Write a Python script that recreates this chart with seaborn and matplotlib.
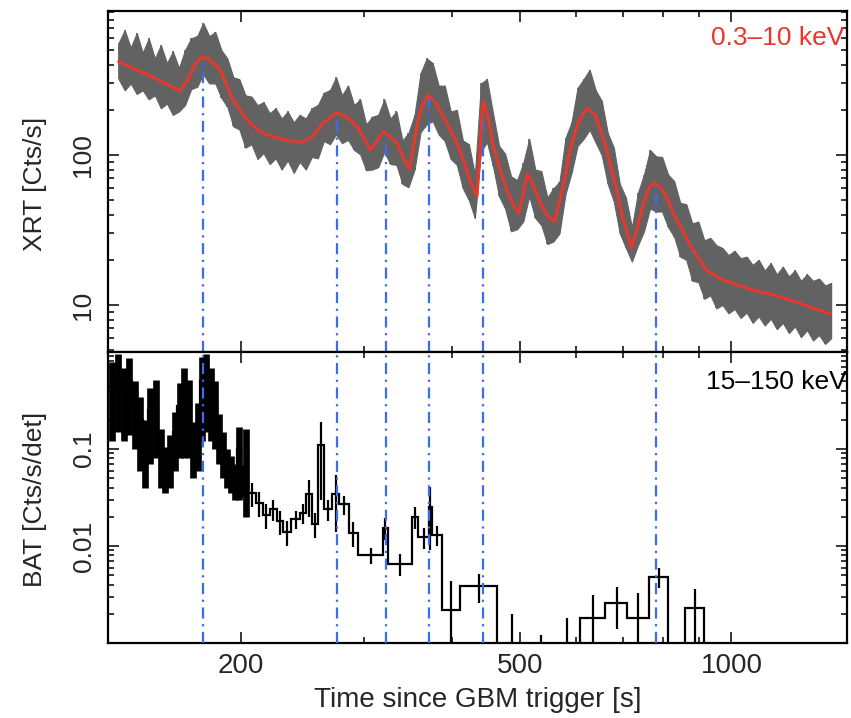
import matplotlib
matplotlib.use("Agg")
import matplotlib.pyplot as plt
import matplotlib.ticker as mticker
import seaborn as sns

# XRT 0.3-10 keV light curve: bin times and grey band edges (upper / lower)
xrt_t = [134.0, 136.7, 139.4, 142.2, 145.0, 147.9, 150.9, 153.9, 157.0, 160.1,
         163.3, 166.6, 170.0, 173.4, 176.8, 180.4, 184.0, 187.7, 191.4, 195.2,
         199.1, 203.1, 207.2, 211.3, 215.5, 219.9, 224.3, 228.7, 233.3, 238.0,
         242.7, 247.6, 252.5, 257.6, 262.7, 268.0, 273.4, 278.8, 284.4, 290.1,
         295.9, 301.8, 307.9, 314.0, 320.3, 326.7, 333.3, 339.9, 346.7, 353.7,
         360.7, 368.0, 375.3, 382.8, 390.5, 398.3, 406.3, 414.4, 422.7, 431.1,
         439.8, 448.5, 457.5, 466.7, 476.0, 485.5, 495.2, 505.1, 515.2, 525.5,
         536.1, 546.8, 557.7, 568.9, 580.3, 591.9, 603.7, 615.8, 628.1, 640.7,
         653.5, 666.6, 679.9, 693.5, 707.4, 721.5, 735.9, 750.7, 765.7, 781.0,
         796.6, 812.6, 828.8, 845.4, 862.3, 879.6, 897.2, 915.1, 933.4, 952.1,
         971.1, 990.5, 1010.4, 1030.6, 1051.2, 1072.2, 1093.6, 1115.5, 1137.8, 1160.6,
         1183.8, 1207.5, 1231.6, 1256.3, 1281.4, 1307.0, 1333.2, 1359.8, 1387.0]
xrt_hi = [560, 680, 520, 650, 480, 600, 440, 540, 410, 490,
          380, 500, 600, 620, 760, 620, 660, 500, 440, 330,
          320, 250, 245, 215, 225, 190, 205, 175, 195, 165,
          185, 175, 205, 215, 260, 270, 330, 250, 290, 215,
          235, 160, 180, 185, 235, 175, 195, 125, 140, 185,
          350, 440, 410, 290, 290, 195, 200, 125, 118, 74,
          300, 320, 190, 115, 102, 72, 68, 88, 128, 80,
          78, 52, 60, 66, 130, 165, 280, 320, 370, 270,
          230, 140, 112, 64, 52, 33, 56, 74, 108, 98,
          97, 74, 67, 48, 47, 35, 36, 27, 28, 25,
          24, 21.5, 23, 20.5, 21, 18.5, 20, 17, 19, 16,
          18, 15.5, 17, 14.5, 16, 14.5, 15, 13.5, 14]
xrt_lo = [320, 270, 300, 255, 270, 235, 250, 205, 220, 185,
          195, 215, 275, 285, 345, 300, 300, 240, 210, 155,
          148, 112, 118, 94, 103, 87, 95, 80, 92, 76,
          90, 80, 97, 95, 124, 118, 137, 120, 126, 108,
          101, 79, 80, 83, 105, 87, 86, 64, 61, 80,
          142, 160, 168, 137, 124, 94, 86, 60, 50, 38,
          105, 122, 84, 53, 44, 31, 32, 36, 53, 38,
          34, 25.5, 26.5, 30, 55, 76, 115, 128, 147, 121,
          100, 64, 49, 30, 24, 19.5, 25, 31, 44, 42,
          42, 33, 28.5, 21, 20, 14.5, 14.2, 11, 11.6, 9.5,
          10, 8.8, 9.4, 8.2, 8.9, 7.6, 8.4, 7.3, 8.1, 6.9,
          7.6, 6.5, 7.2, 6.1, 6.8, 5.8, 6.3, 5.5, 6]

# pulse model fit (red curve)
model_t = [134, 150, 164, 168, 172, 176, 180, 187, 195, 206,
           215, 223, 235, 243, 252, 262, 274, 283, 293, 300,
           306, 312, 319, 326, 334, 341, 348, 353, 357, 363,
           370, 380, 393, 405, 415, 425, 434, 438, 441, 443,
           450, 458, 468, 479, 490, 498, 505, 512, 520, 532,
           545, 560, 575, 589, 605, 622, 640, 660, 680, 700,
           721, 735, 750, 762, 775, 790, 810, 826, 850, 873,
           900, 922, 950, 973, 1020, 1073, 1147, 1250, 1382]
model_rate = [419, 330, 268, 316, 400, 450, 440, 368, 232, 163,
              140, 132, 124, 121, 130, 163, 191, 180, 155, 128,
              108, 122, 143, 133, 120, 95, 81, 120, 163, 215,
              251, 218, 163, 125, 93, 66, 53, 100, 180, 226,
              180, 114, 80, 58, 46, 41, 55, 75, 66, 50,
              40, 36, 60, 108, 165, 205, 185, 120, 70, 38,
              24, 33, 48, 60, 65, 62, 52, 41, 32, 25,
              20, 17, 15.6, 14.7, 13.6, 12.6, 11.7, 10.3, 8.7]

# pulse peak times (blue dash-dot lines) and model rate at each peak
peak_t = [177, 274, 322, 371, 443, 781]
peak_rate = [450, 191, 141, 251, 226, 65]

# BAT 15-150 keV binned light curve
bat_edges = [130, 132.5, 135, 137.5, 140, 142.5, 145, 147.5, 150, 152.5,
             155, 157.5, 160, 162.5, 165, 167.5, 170, 172.5, 175, 177.5,
             180, 182.5, 185, 187.5, 190, 192.5, 195, 197.5, 200, 202.5,
             205, 210, 215, 220, 225, 230, 236, 243, 248, 253,
             258, 263, 270, 276, 285, 294, 319, 324, 351, 358,
             371, 374, 387, 411, 464, 510, 560, 608, 661, 711,
             762, 813, 860, 914, 960]
bat_rate = [0.45, 0.55, 0.40, 0.50, 0.30, 0.20, 0.12, 0.25, 0.30, 0.10,
            0.07, 0.09, 0.15, 0.28, 0.38, 0.30, 0.12, 0.18, 0.50, 0.55,
            0.40, 0.30, 0.15, 0.10, 0.07, 0.06, 0.05, 0.10, 0.05, 0.09,
            0.035, 0.028, 0.021, 0.024, 0.018, 0.014, 0.019, 0.022, 0.034, 0.017,
            0.11, 0.024, 0.034, 0.027, 0.0137, 0.0081, 0.0154, 0.0066, 0.020, 0.0124,
            0.025, 0.013, 0.0022, 0.0039, -0.0005, -0.002, -0.0002, 0.0018, 0.0026, 0.0018,
            0.0048, -0.001, 0.0023, -0.002]
bat_err = [0.33, 0.40, 0.28, 0.36, 0.20, 0.14, 0.08, 0.18, 0.22, 0.06,
           0.035, 0.05, 0.09, 0.20, 0.30, 0.22, 0.07, 0.12, 0.38, 0.40,
           0.28, 0.20, 0.08, 0.05, 0.03, 0.025, 0.02, 0.07, 0.018, 0.07,
           0.010, 0.008, 0.006, 0.006, 0.005, 0.004, 0.004, 0.005, 0.014, 0.005,
           0.08, 0.006, 0.02, 0.006, 0.004, 0.0015, 0.004, 0.0017, 0.005, 0.003,
           0.016, 0.003, 0.0022, 0.0013, 0.0025, 0.0032, 0.002, 0.0013, 0.0012, 0.0015,
           0.0011, 0.0012, 0.0013, 0.001]
n_dense = 30  # the first 2.5 s bins overlap into a solid band

sns.set_style("ticks")
plt.rcParams['font.family'] = ['Liberation Sans', 'DejaVu Sans']
plt.rcParams['axes.linewidth'] = 1.6

xlim = (129.4, 1461)
xrt_ylim = (4.86, 912)
bat_ylim = (0.001, 1.0)
grey = '#626262'
red = '#e8372c'
blue = '#3a6cf4'
dashdot = (0, (5, 2.5, 1, 2.5))

fig = plt.figure(figsize=(8.51, 7.18), dpi=100)
ax1 = fig.add_axes([108 / 851, 1 - 352 / 718, 739 / 851, 341 / 718])
ax2 = fig.add_axes([108 / 851, 1 - 643 / 718, 739 / 851, 291 / 718], sharex=ax1)

# top panel: XRT
ax1.set_xscale('log')
ax1.set_yscale('log')
ax1.fill_between(xrt_t, xrt_lo, xrt_hi, color=grey, lw=0.8, edgecolor=grey, zorder=1)
ax1.vlines(xrt_t, xrt_lo, xrt_hi, colors=grey, lw=1.2, zorder=1)
ax1.vlines(peak_t, xrt_ylim[0], peak_rate, colors=blue, lw=1.6, linestyles=dashdot, zorder=2)
sns.lineplot(x=model_t, y=model_rate, ax=ax1, color=red, lw=2.2, sort=False,
             estimator=None, zorder=3)
ax1.set_xlim(*xlim)
ax1.set_ylim(*xrt_ylim)
ax1.set_ylabel('XRT [Cts/s]', fontsize=19)
ax1.yaxis.set_label_coords(-0.083, 0.494)
ax1.text(0.997, 0.922, '0.3–10 keV', transform=ax1.transAxes, ha='right', va='center',
         color=red, fontsize=19)
ax1.yaxis.set_major_locator(mticker.FixedLocator([10, 100]))
ax1.yaxis.set_major_formatter(mticker.FixedFormatter(['10', '100']))
ax1.yaxis.set_minor_locator(mticker.LogLocator(base=10, subs=range(2, 10)))
ax1.yaxis.set_minor_formatter(mticker.NullFormatter())

# bottom panel: BAT
ax2.set_yscale('log')
mid = [(a + b) / 2 for a, b in zip(bat_edges[:-1], bat_edges[1:])]
ax2.stairs(bat_rate, bat_edges, baseline=None, color='black', lw=1.6, zorder=2)
ax2.errorbar(mid[:n_dense], bat_rate[:n_dense], yerr=bat_err[:n_dense], fmt='none',
             ecolor='black', elinewidth=4.8, zorder=2)
ax2.errorbar(mid[n_dense:], bat_rate[n_dense:], yerr=bat_err[n_dense:], fmt='none',
             ecolor='black', elinewidth=1.6, zorder=2)
ax2.vlines(peak_t, bat_ylim[0], bat_ylim[1], colors=blue, lw=1.6, linestyles=dashdot, zorder=3)
ax2.set_ylim(*bat_ylim)
ax2.set_ylabel('BAT [Cts/s/det]', fontsize=19)
ax2.yaxis.set_label_coords(-0.083, 0.495)
ax2.set_xlabel('Time since GBM trigger [s]', fontsize=20, labelpad=6)
ax2.text(1.0, 0.897, '15–150 keV', transform=ax2.transAxes, ha='right', va='center',
         color='black', fontsize=19)
ax2.yaxis.set_major_locator(mticker.FixedLocator([0.01, 0.1]))
ax2.yaxis.set_major_formatter(mticker.FixedFormatter(['0.01', '0.1']))
ax2.yaxis.set_minor_locator(mticker.LogLocator(base=10, subs=range(2, 10)))
ax2.yaxis.set_minor_formatter(mticker.NullFormatter())

ax2.xaxis.set_major_locator(mticker.FixedLocator([200, 500, 1000]))
ax2.xaxis.set_major_formatter(mticker.FixedFormatter(['200', '500', '1000']))
ax2.xaxis.set_minor_locator(mticker.FixedLocator([300, 400, 600, 700, 800, 900]))
ax2.xaxis.set_minor_formatter(mticker.NullFormatter())

for ax in (ax1, ax2):
    ax.tick_params(which='both', direction='in', top=True, right=True, width=1.3)
    ax.tick_params(which='major', length=8)
    ax.tick_params(which='minor', length=4.5)
    ax.tick_params(axis='y', which='major', labelrotation=90, labelsize=19, pad=9)
    for lab in ax.get_yticklabels():
        lab.set_va('center')
    for s in ax.spines.values():
        s.set_linewidth(1.6)
        s.set_color('black')
ax1.tick_params(axis='x', labelbottom=False)
ax2.tick_params(axis='x', which='major', labelsize=20, pad=7)

fig.savefig('out.png', dpi=100)
